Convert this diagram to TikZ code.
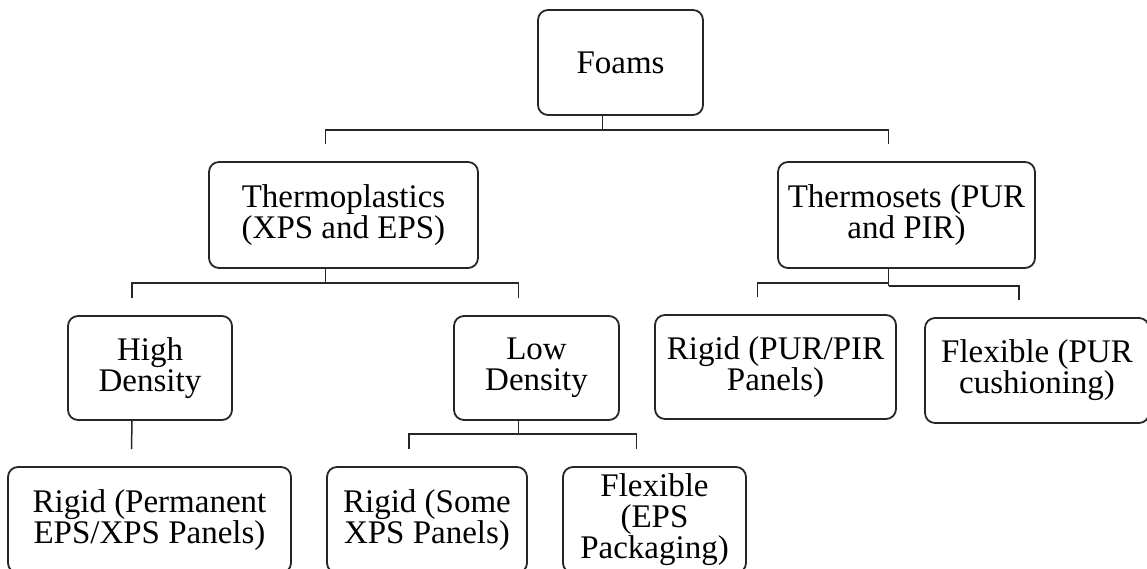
\documentclass[tikz,border=0pt]{standalone}
\usepackage{fontspec}
\setmainfont{Liberation Serif}
\usetikzlibrary{positioning,calc}
\tikzset{
  basic/.style  = {draw=black!85, line width=1.8pt, rounded corners=10pt,
                   align=center, inner sep=0pt, fill=white,
                   font=\fontsize{33}{31}\selectfont},
  root/.style   = {basic, minimum width=165pt, minimum height=105pt},
  level 2/.style = {basic, minimum height=106pt},
  level 3/.style = {basic, minimum height=104pt},
  level 4/.style = {basic, minimum height=106pt},
  link/.style   = {draw=black!85, line width=1.5pt}
}
\newcommand{\stemshift}{18pt}
\newcommand{\dropgap}{17pt}

\begin{document}
\begin{tikzpicture}[x=1pt, y=-1pt]
\useasboundingbox (0,0) rectangle (1147,569);
\clip (0,0) rectangle (1147,569);

% root
\node[root] (foams) at (620.5,62.5) {Foams};

% first level
\node[level 2, minimum width=269pt] (tp) at (343.5,215) {Thermoplastics\\(XPS and EPS)};
\node[level 2, minimum width=257pt] (ts) at (906.5,215) {Thermosets (PUR\\and PIR)};

% second level
\node[level 3, minimum width=164pt] (hd) at (150,368) {High\\Density};
\node[level 3, minimum width=165pt] (ld) at (536.5,368) {Low\\Density};
\node[level 3, minimum width=241pt] (rp) at (775.5,367) {Rigid (PUR/PIR\\Panels)};
\node[level 3, minimum width=224pt, minimum height=105pt] (fp) at (1037,370.5) {Flexible (PUR\\cushioning)};

% third level
\node[level 4, minimum width=283pt] (rperm) at (149.5,520) {Rigid (Permanent\\EPS/XPS Panels)};
\node[level 4, minimum width=200pt] (rsome) at (427,520) {Rigid (Some\\XPS Panels)};
\node[level 4, minimum width=183pt] (feps) at (654.5,520) {Flexible\\(EPS\\Packaging)};

% junction points below each parent
\coordinate (foams bus) at ([xshift=-\stemshift]foams.south |- 0,130);
\coordinate (tp bus) at ([xshift=-\stemshift]tp.south |- 0,283);
\coordinate (ts bus) at ([xshift=-\stemshift]ts.south |- 0,283);
\coordinate (ts bus2) at ([xshift=-\stemshift]ts.south |- 0,286);
\coordinate (ld bus) at ([xshift=-\stemshift]ld.south |- 0,434);

% stems from parents
\draw[link] ([xshift=-\stemshift]foams.south) -- (foams bus);
\draw[link] ([xshift=-\stemshift]tp.south) -- (tp bus);
\draw[link] ([xshift=-\stemshift]ts.south) -- (ts bus2);
\draw[link] ([xshift=-\stemshift]ld.south) -- (ld bus);

% lines from each junction to its children
\foreach \child in {tp,ts}
  \draw[link] (foams bus) -| ([xshift=-\stemshift, yshift=\dropgap]\child.north);
\foreach \child in {hd,ld}
  \draw[link] (tp bus) -| ([xshift=-\stemshift, yshift=\dropgap]\child.north);
\draw[link] (ts bus) -| ([xshift=-\stemshift, yshift=\dropgap]rp.north);
\draw[link] (ts bus2) -| ([xshift=-\stemshift, yshift=\dropgap]fp.north);
\foreach \child in {rsome,feps}
  \draw[link] (ld bus) -| ([xshift=-\stemshift, yshift=\dropgap]\child.north);
\draw[link] ([xshift=-\stemshift]hd.south) -- ([xshift=-\stemshift, yshift=\dropgap]rperm.north);
\end{tikzpicture}
\end{document}
